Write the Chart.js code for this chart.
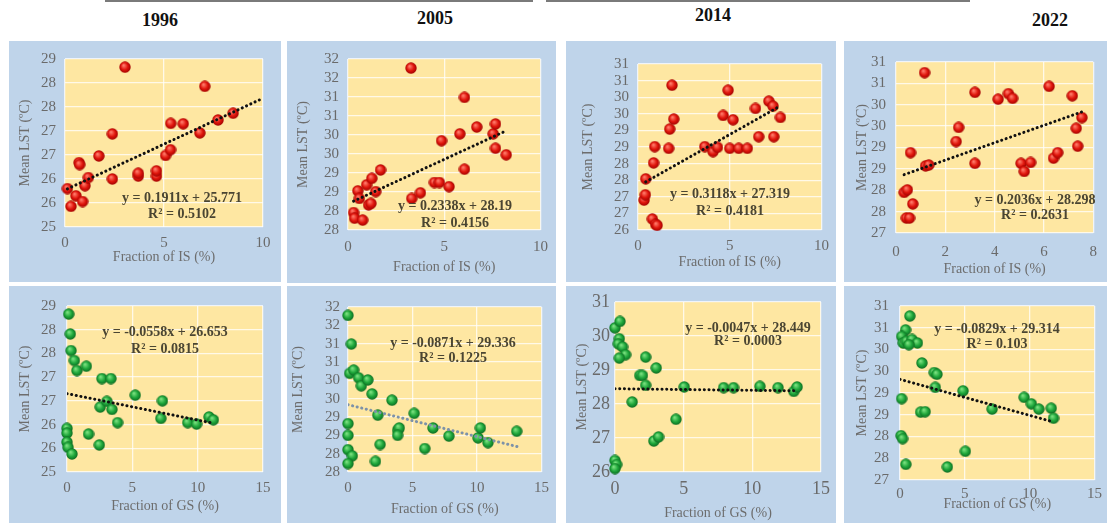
<!DOCTYPE html>
<html>
<head>
<meta charset="utf-8">
<script src="https://cdn.jsdelivr.net/npm/chart.js@4.4.1/dist/chart.umd.min.js"></script>
<style>
  body { margin: 0; background: #fff; }
  #wrap { position: relative; width: 1107px; height: 523px; overflow: hidden; background: #fff; }
  .panel { position: absolute; background: #bfd4ea; }
  .year { position: absolute; font-family: "Liberation Serif", serif; font-weight: bold; font-size: 18px; color: #111; transform: translateX(-50%); }
  .rule { position: absolute; top: 0; height: 2px; background: #7a7a7a; }
</style>
</head>
<body>
<div id="wrap">
  <div class="rule" style="left:105px;width:428px"></div>
  <div class="rule" style="left:546px;width:424px"></div>
  <div class="year" style="left:160px;top:10px">1996</div>
  <div class="year" style="left:435px;top:8px">2005</div>
  <div class="year" style="left:713px;top:5px">2014</div>
  <div class="year" style="left:1050px;top:10px">2022</div>
</div>
<script>
// ---- data ----
const years = ["1996", "2005", "2014", "2022"]

// impervious surface (IS) fraction vs mean LST
const isX1996 = [0.12,0.55,0.30,0.89,0.71,0.74,1.01,1.18,1.71,2.39,2.39,3.03,3.70,3.70,4.62,4.62,5.08,5.33,5.34,5.97,6.81,7.06,7.73,8.49]
const isY1996 = [25.80,25.65,25.43,25.53,26.34,26.30,25.86,26.03,26.48,26.00,26.94,28.33,26.06,26.12,26.06,26.17,26.49,26.61,27.16,27.15,26.96,27.93,27.23,27.37]
const isX2005 = [0.29,0.34,0.76,0.51,0.59,0.97,1.07,1.19,1.24,1.44,1.69,3.27,3.31,3.76,4.49,4.75,4.86,5.25,5.81,6.05,6.05,6.69,7.54,7.66,7.66,8.22]
const isY2005 = [27.96,27.81,27.76,28.53,28.33,28.69,28.16,28.20,28.86,28.51,29.08,31.76,28.33,28.48,28.75,28.75,29.85,28.64,30.03,29.10,30.99,30.21,30.03,30.29,29.65,29.48]
const isX2014 = [0.33,0.40,0.42,0.78,0.96,1.04,0.85,0.91,1.67,1.73,1.95,1.85,3.64,4.09,4.33,4.64,4.91,5.00,5.18,5.49,5.96,6.40,6.58,7.13,7.36,7.40,7.76]
const isY2014 = [26.90,27.06,27.54,26.33,26.17,26.14,28.02,28.51,28.46,29.04,29.34,30.36,28.51,28.36,28.49,29.45,30.21,28.46,29.32,28.46,28.46,29.66,28.81,29.88,29.73,28.81,29.39]
const isX2022 = [0.33,0.46,0.42,0.55,0.68,0.59,1.16,1.20,1.33,2.44,2.54,3.20,3.20,4.14,4.56,4.73,5.07,5.20,5.46,6.21,6.39,6.56,7.15,7.31,7.37,7.54]
const isY2022 = [27.95,28.01,27.35,27.35,27.68,28.88,30.75,28.57,28.59,29.14,29.47,28.63,30.29,30.13,30.26,30.15,28.63,28.44,28.65,30.43,28.75,28.88,30.21,29.45,29.03,29.70]

// green space (GS) fraction vs mean LST
const gsX1996 = [0.13,0.25,0.31,0.56,0.76,1.48,0,0,0,0.08,0.38,1.65,2.47,2.54,2.67,3.36,3.05,3.44,3.87,5.22,7.18,7.30,9.24,9.92,10.87,11.2]
const gsY1996 = [28.33,27.91,27.56,27.35,27.14,27.23,25.92,25.82,25.63,25.52,25.38,25.80,25.57,26.37,26.97,26.97,26.49,26.32,26.04,26.62,26.13,26.50,26.04,26.01,26.16,26.10]
const gsX2005 = [0,0.26,0.13,0.44,0.82,1.03,1.54,1.87,2.31,3.41,3.85,3.97,3.85,5.13,6.59,7.82,5.95,2.49,2.13,0,0,0,0.33,0,10.08,10.26,10.85,13.08]
const gsY2005 = [31.77,30.99,30.19,30.28,30.07,29.85,30.01,29.63,29.05,29.46,28.64,28.70,28.50,29.10,28.70,28.48,28.14,28.25,27.79,28.82,28.50,28.11,27.94,27.73,28.43,28.70,28.30,28.61]
const gsX2014 = [0,0.36,0.31,0.24,0.55,0.77,0.31,2.23,1.80,2.00,3.00,2.23,1.25,5.04,4.44,2.83,3.17,0,0.12,0,7.91,8.63,10.55,11.87,13.02,13.26]
const gsY2014 = [30.24,30.43,29.92,29.77,29.68,29.45,29.35,29.38,28.84,28.84,29.06,28.55,28.06,28.50,27.55,26.91,27.03,26.34,26.22,26.10,28.48,28.48,28.52,28.48,28.37,28.50]
const gsX2022 = [0.76,0.43,0.13,0.25,0.50,0.93,1.34,0.68,1.69,2.64,2.85,2.72,4.86,0.13,1.59,1.94,7.10,9.57,10.13,10.71,11.66,11.84,0.08,0.20,5.04,0.45,3.65]
const gsY2022 = [30.77,30.45,30.30,30.15,30.19,30.23,30.15,30.11,29.69,29.47,29.43,29.13,29.05,28.87,28.56,28.57,28.63,28.90,28.75,28.63,28.65,28.42,28.02,27.95,27.66,27.36,27.30]

// linear trend lines as printed: slope, intercept, x span
const isSlope = [0.1911, 0.2338, 0.3118, 0.2036]
const isIntercept = [25.771, 28.19, 27.319, 28.298]
const isSpan = [[0.12, 10], [0.29, 8.22], [0.42, 7.76], [0.33, 7.54]]
const isR2 = ["0.5102", "0.4156", "0.4181", "0.2631"]
const gsSlope = [-0.0558, -0.0871, -0.0047, -0.0829]
const gsIntercept = [26.653, 29.336, 28.449, 29.314]
const gsSpan = [[0, 11.2], [0, 13.3], [0, 13.3], [0, 11.84]]
const gsR2 = ["0.0815", "0.1225", "0.0003", "0.103"]

// axis ranges [min, max, step]
const isXAxis = [[0, 10, 5], [0, 10, 5], [0, 10, 5], [0, 8, 2]]
const gsXAxis = [[0, 15, 5], [0, 15, 5], [0, 15, 5], [0, 15, 5]]
const isYAxis = [[25, 28.5, 0.5], [27.5, 32, 0.5], [26, 31, 0.5], [27, 31, 0.5]]
const gsYAxis = [[25, 28.5, 0.5], [27.5, 32, 0.5], [26, 31, 1], [27, 31, 0.5]]

// ---- layout of the eight panels ----
// x,y,w,h: panel box; ya: y axis width; xa: x axis height; top/right: padding
// ytp: y title offset; xtb: x title offset from bottom; xtp / ytk: tick gaps; eq: equation position
const layouts = [
  {x: 9, y: 41, w: 272, h: 241, ya: 56, xa: 55, top: 17, right: 18, ytp: 8, xtb: 16, xtp: 7, ytk: 9, fs: 15, eq: [173, 157, 173]},
  {x: 287, y: 41, w: 269, h: 242, ya: 61, xa: 53, top: 18, right: 11, ytp: 8, xtb: 7, xtp: 8, ytk: 9, fs: 15, eq: [168, 165, 182]},
  {x: 566, y: 41, w: 270, h: 241, ya: 72, xa: 52, top: 23, right: 14, ytp: 14, xtb: 11, xtp: 7, ytk: 9, fs: 15, eq: [164, 153, 170]},
  {x: 844, y: 41, w: 263, h: 241, ya: 52, xa: 49, top: 21, right: 7, ytp: 10, xtb: 4, xtp: 10, ytk: 10, fs: 15, eq: [191, 159, 174]},
  {x: 9, y: 286, w: 272, h: 237, ya: 58, xa: 51, top: 18, right: 18, ytp: 8, xtb: 8, xtp: 7, ytk: 11, fs: 15, eq: [156, 46, 63]},
  {x: 287, y: 286, w: 269, h: 237, ya: 61, xa: 51, top: 21, right: 13, ytp: 3, xtb: 5, xtp: 7, ytk: 8, fs: 15, eq: [166, 57, 72]},
  {x: 566, y: 286, w: 270, h: 237, ya: 49, xa: 51, top: 16, right: 13, ytp: 8, xtb: 1, xtp: 6, ytk: 5, fs: 18, eq: [182, 42, 55]},
  {x: 844, y: 286, w: 263, h: 237, ya: 56, xa: 43, top: 18, right: 9, ytp: 10, xtb: 10, xtp: 5, ytk: 11, fs: 15, eq: [153, 43, 58]}
]

const serif = "'Liberation Serif', 'Times New Roman', serif"
Chart.defaults.font.family = serif

function sphere(c1, c2, c3) {
  const s = 12
  const cv = document.createElement("canvas")
  cv.width = s
  cv.height = s
  const g = cv.getContext("2d")
  const grad = g.createRadialGradient(s * 0.38, s * 0.34, 0.5, s / 2, s / 2, s / 2)
  grad.addColorStop(0, c1)
  grad.addColorStop(0.55, c2)
  grad.addColorStop(1, c3)
  g.fillStyle = grad
  g.beginPath()
  g.arc(s / 2, s / 2, s / 2 - 0.3, 0, Math.PI * 2)
  g.fill()
  return cv
}
const redDot = sphere("#ff7a6a", "#e0160c", "#9c0000")
const greenDot = sphere("#7ae07f", "#1ea63a", "#0c6620")

const yellowArea = {
  id: "yellowArea",
  beforeDraw(chart) {
    const a = chart.chartArea
    chart.ctx.save()
    chart.ctx.fillStyle = "#fee7a2"
    chart.ctx.fillRect(a.left, a.top, a.right - a.left, a.bottom - a.top)
    chart.ctx.restore()
  }
}

const equation = {
  id: "equation",
  afterDraw(chart, args, opts) {
    const ctx = chart.ctx
    ctx.save()
    ctx.font = "bold 14px " + serif
    ctx.fillStyle = "#4a4532"
    ctx.textAlign = "center"
    ctx.textBaseline = "middle"
    ctx.fillText(opts.eq, opts.pos[0], opts.pos[1])
    ctx.fillText(opts.r2, opts.pos[0], opts.pos[2])
    ctx.restore()
  }
}

function makePanel(i, xs, ys, slope, icpt, span, r2, xAxis, yAxis, dot, trendColor, xTitle) {
  const L = layouts[i]
  const div = document.createElement("div")
  div.className = "panel"
  div.style.left = L.x + "px"
  div.style.top = L.y + "px"
  div.style.width = L.w + "px"
  div.style.height = L.h + "px"
  const cv = document.createElement("canvas")
  cv.width = L.w
  cv.height = L.h
  div.appendChild(cv)
  document.getElementById("wrap").appendChild(div)

  const pts = xs.map((x, k) => ({x: x, y: ys[k]}))
  const trend = span.map(x => ({x: x, y: slope * x + icpt}))
  const sign = icpt >= 0 ? " + " : " - "
  const eqText = "y = " + slope + "x" + sign + Math.abs(icpt)
  const tickFont = {family: serif, size: L.fs}
  const titleFont = {family: serif, size: 14}

  new Chart(cv, {
    type: "scatter",
    data: {
      datasets: [
        {type: "line", data: trend, borderColor: trendColor, borderWidth: 3, borderDash: [0.1, 4.6],
         borderCapStyle: "round", pointRadius: 0, fill: false},
        {data: pts, pointStyle: dot, pointRadius: 6, clip: false}
      ]
    },
    options: {
      responsive: false,
      animation: false,
      layout: {padding: {top: L.top, right: L.right, left: 0, bottom: 0}},
      plugins: {
        legend: {display: false},
        tooltip: {enabled: false},
        equation: {eq: eqText, r2: "R² = " + r2, pos: L.eq}
      },
      scales: {
        x: {
          type: "linear", min: xAxis[0], max: xAxis[1],
          ticks: {stepSize: xAxis[2], padding: L.xtp, font: tickFont, color: "#6a6a6a", autoSkip: false, maxRotation: 0},
          grid: {color: "rgba(255,255,255,0.75)", lineWidth: 1.3, drawTicks: false},
          border: {display: false},
          title: {display: true, text: xTitle, font: titleFont, color: "#6d6d6d", padding: {top: 0, bottom: L.xtb}},
          afterFit: s => { s.height = L.xa }
        },
        y: {
          min: yAxis[0], max: yAxis[1],
          ticks: {stepSize: yAxis[2], padding: L.ytk, font: tickFont, color: "#6a6a6a", autoSkip: false,
                  callback: v => Math.round(v)},
          grid: {color: "rgba(255,255,255,0.75)", lineWidth: 1.3, drawTicks: false},
          border: {display: false},
          title: {display: true, text: "Mean LST (ºC)", font: titleFont, color: "#6d6d6d", padding: {top: L.ytp, bottom: 0}},
          afterFit: s => { s.width = L.ya }
        }
      }
    },
    plugins: [yellowArea, equation]
  })
}

const isXs = [isX1996, isX2005, isX2014, isX2022]
const isYs = [isY1996, isY2005, isY2014, isY2022]
const gsXs = [gsX1996, gsX2005, gsX2014, gsX2022]
const gsYs = [gsY1996, gsY2005, gsY2014, gsY2022]

years.forEach((yr, i) => {
  makePanel(i, isXs[i], isYs[i], isSlope[i], isIntercept[i], isSpan[i], isR2[i],
            isXAxis[i], isYAxis[i], redDot, "#111", "Fraction of IS (%)")
  makePanel(i + 4, gsXs[i], gsYs[i], gsSlope[i], gsIntercept[i], gsSpan[i], gsR2[i],
            gsXAxis[i], gsYAxis[i], greenDot, i === 1 ? "#7d92a8" : "#111", "Fraction of GS (%)")
})
</script>
</body>
</html>
